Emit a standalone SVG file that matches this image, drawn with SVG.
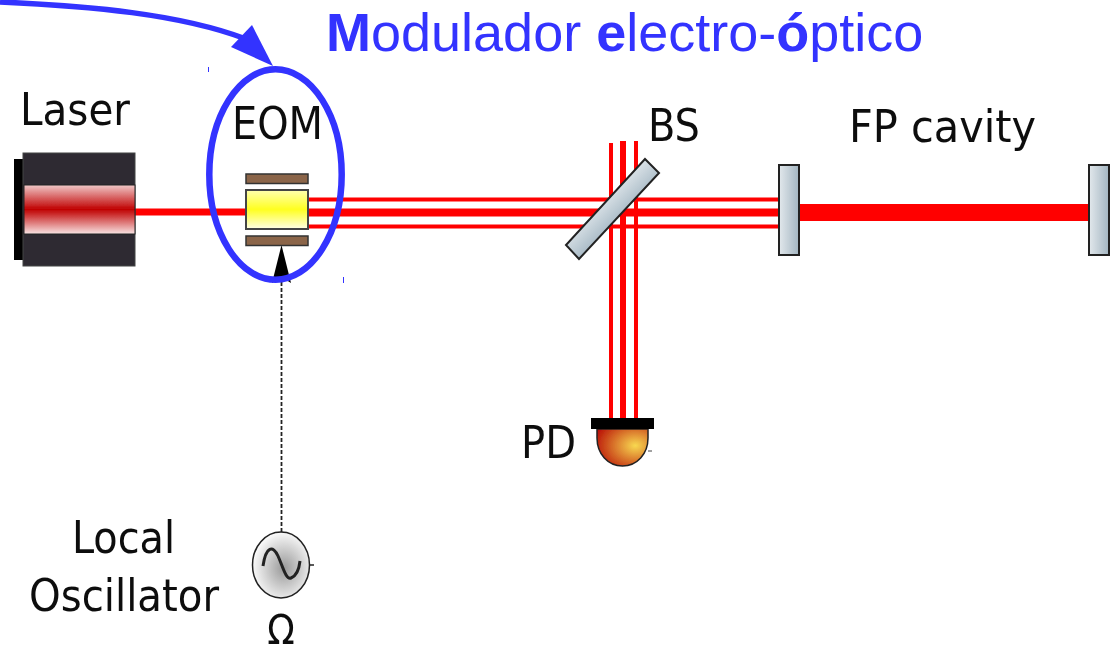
<svg xmlns="http://www.w3.org/2000/svg" width="1114" height="648" viewBox="0 0 1114 648">
<style>
.l{font-family:"DejaVu Sans Condensed","DejaVu Sans",sans-serif;font-size:45px;fill:#111;font-stretch:condensed}
.t{font-family:"Liberation Sans",Arial,sans-serif;font-size:54px;fill:#3333ff}
.t tspan{font-weight:bold}
.b{fill:#ff0000}
.m{fill:url(#mg);stroke:#222;stroke-width:2}
.bl{fill:#3333ff}
.br{fill:#8b6549;stroke:#333;stroke-width:1.5}
.s{filter:url(#soft)}
</style>
<defs>
<filter id="soft" x="-5%" y="-5%" width="110%" height="110%"><feGaussianBlur stdDeviation="0.6"/></filter>
<linearGradient id="mg" x1="0" x2="1" y1="0" y2="0"><stop offset="0" stop-color="#e2e8ec"/><stop offset="1" stop-color="#a3b5c1"/></linearGradient>
<linearGradient id="bsg" gradientUnits="userSpaceOnUse" x1="605" y1="195" x2="625" y2="215"><stop offset="0" stop-color="#dfe6ea"/><stop offset="1" stop-color="#a8bac6"/></linearGradient>
<linearGradient id="lg" x1="0" x2="0" y1="0" y2="1"><stop offset="0" stop-color="#f0c8c8"/><stop offset="0.5" stop-color="#c00000"/><stop offset="1" stop-color="#f8e4e4"/></linearGradient>
<linearGradient id="yg" x1="0" x2="0" y1="0" y2="1"><stop offset="0" stop-color="#ffffb0"/><stop offset="0.5" stop-color="#ffff20"/><stop offset="1" stop-color="#ffffe8"/></linearGradient>
<radialGradient id="pg" cx="0.75" cy="0.45" r="0.85"><stop offset="0" stop-color="#f8d850"/><stop offset="1" stop-color="#b80c04"/></radialGradient>
<radialGradient id="og" cx="0.55" cy="0.55" r="0.55"><stop offset="0" stop-color="#999999"/><stop offset="1" stop-color="#fafafa"/></radialGradient>
</defs>
<g id="connectors">
<g class="s">
<rect class="b" x="135" y="208.500" width="111" height="7"/>
<rect class="b" x="308" y="197.500" width="471" height="4"/>
<rect class="b" x="308" y="208.500" width="471" height="8"/>
<rect class="b" x="308" y="224.500" width="471" height="4"/>
<rect class="b" x="799" y="204" width="290" height="17"/>
<rect class="b" x="609" y="143" width="4" height="275"/>
<rect class="b" x="620" y="141" width="6" height="277"/>
<rect class="b" x="634" y="141" width="4" height="277"/>
<path d="M281.500 532V270" fill="none" stroke="#222" stroke-width="1.800" stroke-dasharray="4 2"/>
<path d="M281.500 245L291 283L281.500 277L272 283Z" fill="#000"/>
</g>
<path d="M0 2C90 6 180 14 246 39" fill="none" stroke="#3333ff" stroke-width="5.500"/>
<path d="M273 66L231 47L252 25Z" class="bl"/>
</g>
<g id="laser" class="s">
<rect x="14" y="159" width="10" height="101" fill="#000"/>
<rect x="23" y="153" width="112" height="113" fill="#2f2b30" stroke="#444" stroke-width="1"/>
<rect x="24" y="185" width="111" height="49" fill="url(#lg)" stroke="#222" stroke-width="1"/>
<text class="l" x="20" y="125" textLength="110" lengthAdjust="spacingAndGlyphs">Laser</text>
</g>
<g id="eom" class="s">
<rect class="br" x="246" y="174" width="62" height="9.500"/>
<rect x="246" y="190" width="62" height="39" fill="url(#yg)" stroke="#444" stroke-width="2"/>
<rect class="br" x="246" y="236" width="62" height="9.500"/>
<text class="l" x="232" y="139" textLength="91" lengthAdjust="spacingAndGlyphs">EOM</text>
</g>
<g id="eom-highlight">
<ellipse cx="275.500" cy="174.500" rx="66.200" ry="105.200" fill="none" stroke="#3333ff" stroke-width="6.500"/>
<rect class="bl" x="208" y="67" width="1" height="5"/>
<rect class="bl" x="343" y="277" width="1" height="6"/>
</g>
<g id="bs" class="s">
<path d="M645 159L659 173L579 259L566 245Z" fill="url(#bsg)" stroke="#222" stroke-width="2"/>
<text class="l" x="648" y="141" textLength="52" lengthAdjust="spacingAndGlyphs">BS</text>
</g>
<g id="mirror1" class="s"><rect class="m" x="779" y="165" width="20" height="90"/></g>
<g id="mirror2" class="s"><rect class="m" x="1089" y="165" width="20" height="90"/></g>
<g id="fp-cavity" class="s"><text class="l" x="849" y="142" textLength="187" lengthAdjust="spacingAndGlyphs">FP cavity</text></g>
<g id="pd" class="s">
<path d="M597 429H648V438C648 454 637 466 622.500 466C608 466 597 454 597 438Z" fill="url(#pg)" stroke="#222" stroke-width="1.500"/>
<rect x="591" y="418" width="63" height="11" fill="#000"/>
<path d="M648 451H652" stroke="#444" stroke-width="1"/>
<text class="l" x="521" y="458" textLength="55" lengthAdjust="spacingAndGlyphs">PD</text>
</g>
<g id="oscillator" class="s">
<ellipse cx="281" cy="565" rx="28.500" ry="33" fill="url(#og)" stroke="#222" stroke-width="1.500"/>
<path d="M310 565H314" stroke="#222" stroke-width="1.500"/>
<path d="M263 566C266 546 273 545 278 556S286 580 291 578S299 570 300 561" fill="none" stroke="#222" stroke-width="3"/>
<text class="l" x="72" y="553" textLength="103" lengthAdjust="spacingAndGlyphs">Local</text>
<text class="l" x="29" y="611" textLength="190" lengthAdjust="spacingAndGlyphs">Oscillator</text>
<text class="l" x="281" y="644" text-anchor="middle" style="font-size:40px">Ω</text>
</g>
<text class="t" x="326" y="51" id="title"><tspan>M</tspan>odulador <tspan>e</tspan>lectro-<tspan>ó</tspan>ptico</text>
</svg>
